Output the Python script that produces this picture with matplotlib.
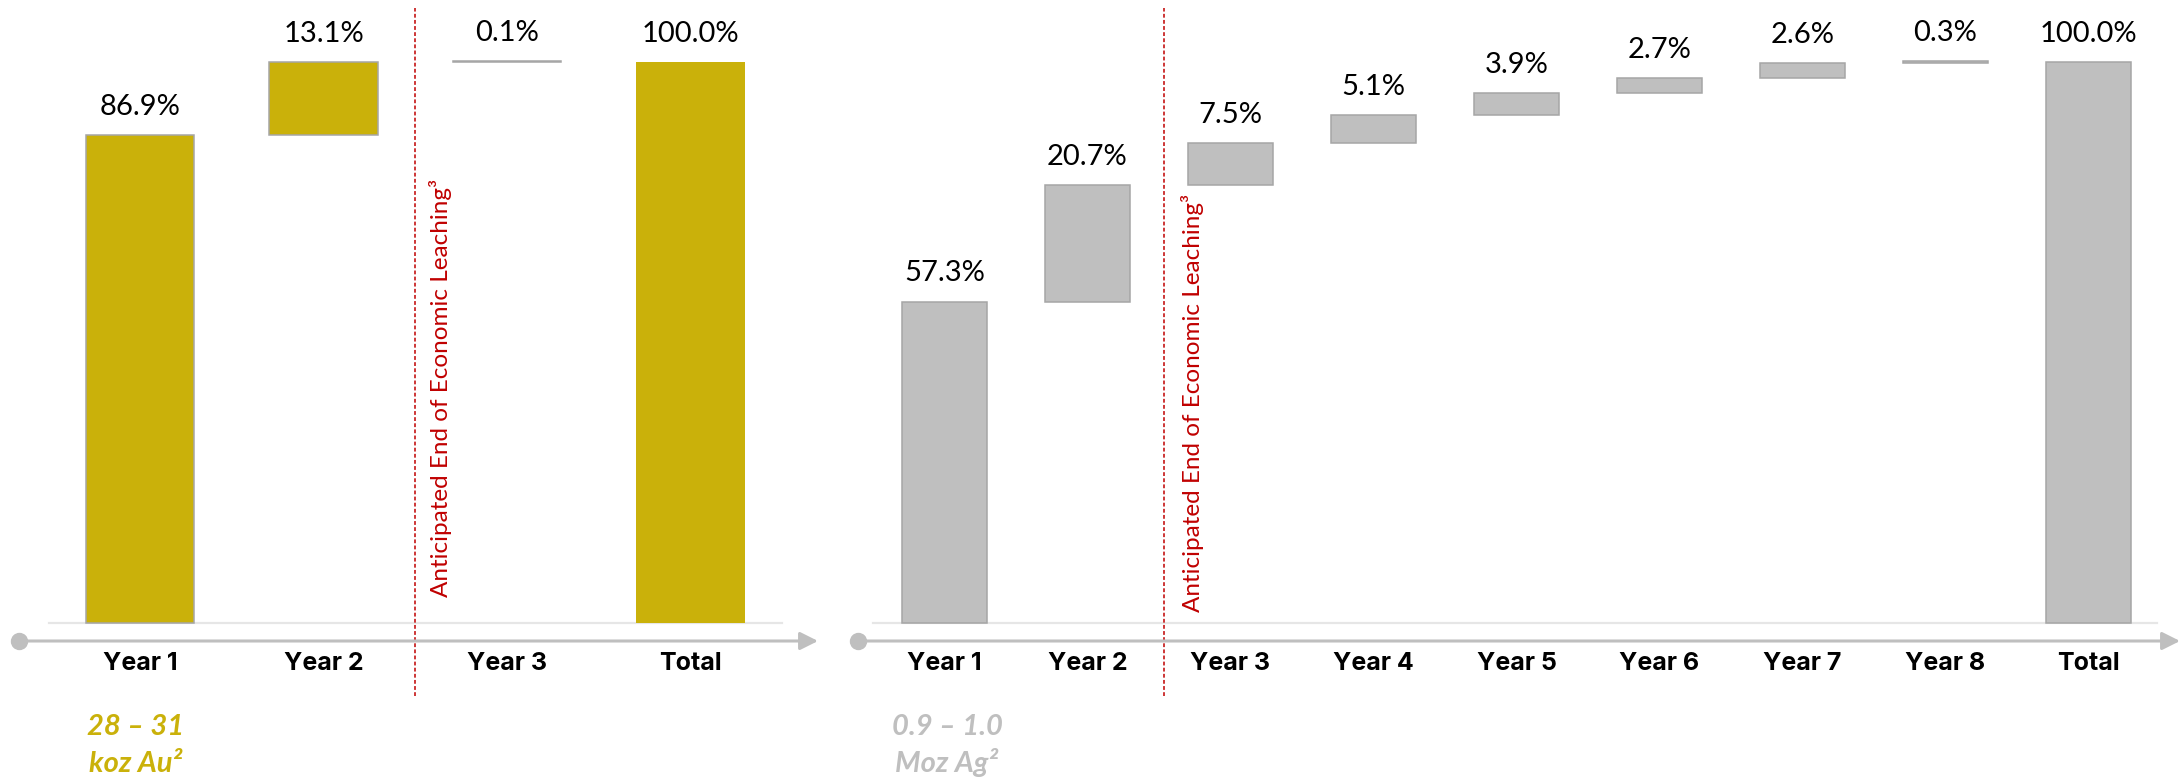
import numpy as np
import matplotlib.pyplot as plt

# gold (left) and silver (right) recovery profiles, % of total
au_cats = ["Year 1", "Year 2", "Year 3", "Total"]
au_pct = [86.9, 13.1, 0.1, 100.0]
ag_cats = ["Year 1", "Year 2", "Year 3", "Year 4", "Year 5", "Year 6", "Year 7", "Year 8", "Total"]
ag_pct = [57.3, 20.7, 7.5, 5.1, 3.9, 2.7, 2.6, 0.3, 100.0]
au_range = ["28 \u2013 31", "koz Au\u00b2"]
ag_range = ["0.9 \u2013 1.0", "Moz Ag\u00b2"]
leach_label = "Anticipated End of Economic Leaching\u00b3"

GOLD = "#CAB10A"
GREY = "#BFBFBF"
EDGE = "#A6A6A6"
AXIS = "#BFBFBF"
BASE = "#E6E6E6"
RED = "#C00000"

W, H = 2183, 779
PX_PER_PCT = 5.61   # 100% spans 561 px
BASE_PX = 623       # baseline, px from top


def ypx(py):
    # px from top -> percent units
    return (BASE_PX - py) / PX_PER_PCT


def ax_w_px(ax):
    return ax.get_position().width * W


def waterfall(ax, cats, pct, color, x0, step, total_edge=True):
    ax.set_xlim(-x0 / step, (ax_w_px(ax) - x0) / step)
    ax.set_ylim(ypx(H), ypx(0))
    ax.axis("off")

    x = np.arange(len(cats))
    heights = np.array(pct)
    bottoms = np.concatenate([[0], np.cumsum(heights[:-1])[:-1], [0]])
    bars = ax.bar(x, heights, bottom=bottoms, width=0.59, color=color,
                  edgecolor=EDGE, linewidth=1.1, zorder=3)
    if not total_edge:
        bars[-1].set_linewidth(0)

    for xi, b, h, p in zip(x, bottoms, heights, pct):
        ax.annotate(f"{p:.1f}%", (xi, b + h), xytext=(0, 14.5), textcoords="offset points",
                    ha="center", va="baseline", fontsize=21, family="Lato", color="black")
    for xi, c in zip(x, cats):
        ax.text(xi, ypx(670), c, ha="center", va="baseline", fontsize=18,
                family="Inter", fontweight="bold", color="black")


fig = plt.figure(figsize=(W / 100, H / 100), dpi=100)
ax1 = fig.add_axes([0, 0, 830 / W, 1])
ax2 = fig.add_axes([840 / W, 0, (W - 840) / W, 1])

waterfall(ax1, au_cats, au_pct, GOLD, 140, 183.5, total_edge=False)
waterfall(ax2, ag_cats, ag_pct, GREY, 944.5 - 840, 143)


def decorate(ax, x0, step, dot_px, base_px, tip_px, dash_px, txt_px, txt_bottom, rng_px, rng, rng_color):
    tox = lambda px: (px - x0) / step
    # light baseline
    ax.plot([tox(base_px[0]), tox(base_px[1])], [0, 0], color=BASE, lw=1.6, zorder=1)
    # timeline arrow with dot
    y_ar = ypx(641)
    ax.annotate("", xy=(tox(tip_px), y_ar), xytext=(tox(dot_px), y_ar),
                arrowprops=dict(arrowstyle="-|>,head_length=0.4,head_width=0.2", color=AXIS,
                                lw=2.2, mutation_scale=27, shrinkA=0, shrinkB=0))
    ax.plot([tox(dot_px)], [y_ar], "o", color=AXIS, markersize=11.5, clip_on=False)
    # end of leaching marker
    ax.plot([tox(dash_px)] * 2, [ypx(696), ypx(8)], color=RED, lw=1.1,
            linestyle=(0, (2.5, 1.5)), zorder=2)
    ax.text(tox(txt_px), ypx(txt_bottom), leach_label, rotation=90, ha="center", va="bottom",
            fontsize=17.5, family="Lato", color=RED)
    # range text
    ax.text(tox(rng_px), ypx(735), rng[0], ha="center", va="baseline", fontsize=21,
            family="Lato", fontweight="bold", fontstyle="italic", color=rng_color)
    ax.text(tox(rng_px), ypx(772), rng[1], ha="center", va="baseline", fontsize=21,
            family="Lato", fontweight="bold", fontstyle="italic", color=rng_color)


decorate(ax1, 140, 183.5, 19, (49, 782), 818, 415, 440, 597, 136, au_range, GOLD)
decorate(ax2, 944.5 - 840, 143, 858 - 840, (873 - 840, 2157 - 840), 2180 - 840,
         1164 - 840, 1193 - 840, 612, 947 - 840, ag_range, "#BFBFBF")

fig.savefig("out.png", dpi=100)
